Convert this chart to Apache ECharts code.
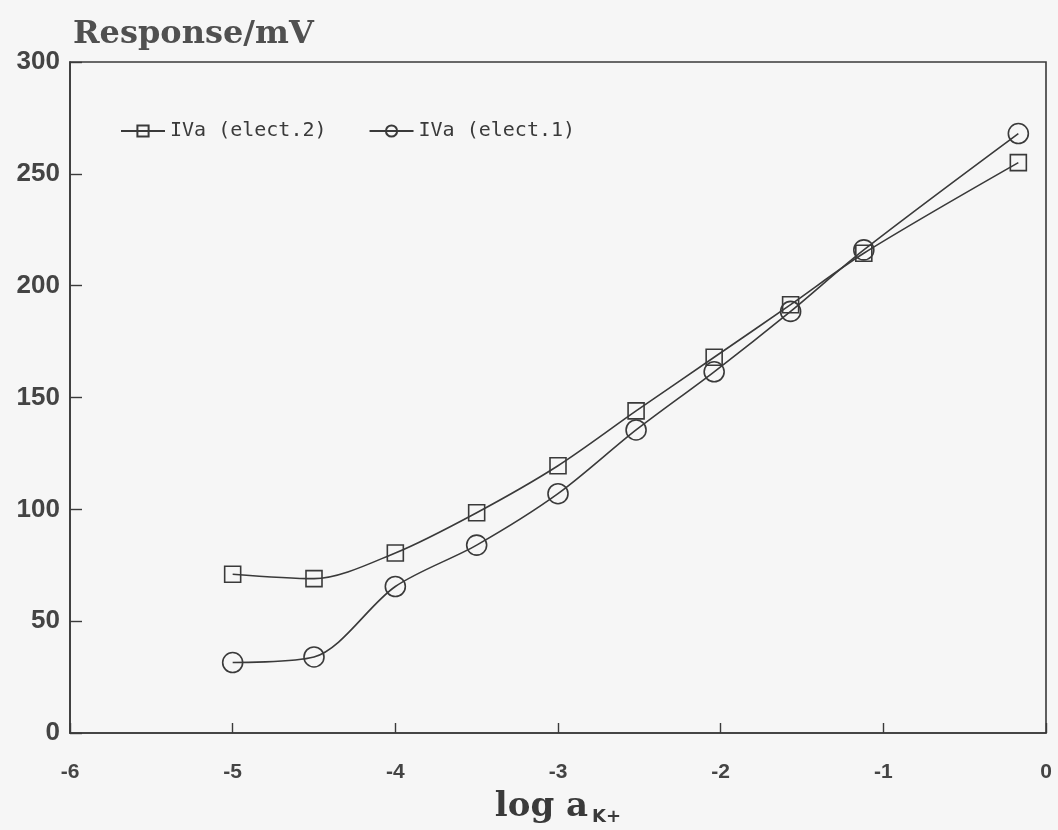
<!DOCTYPE html>
<html>
<head>
<meta charset="utf-8">
<script src="https://cdn.jsdelivr.net/npm/echarts@6/dist/echarts.min.js"></script>
<style>
  html, body { margin: 0; padding: 0; background: #f6f6f6; }
  #chart { width: 1058px; height: 830px; }
</style>
</head>
<body>
<div id="chart"></div>
<script>
// log activity of K+ for each calibration solution
const logActivity = [-5, -4.5, -4, -3.5, -3, -2.52, -2.04, -1.57, -1.12, -0.17];
// electrode potentials (mV)
const elect2 = [71, 69, 80.5, 98.5, 119.5, 144, 168, 191.5, 214.5, 255];
const elect1 = [31.5, 34, 65.5, 84, 107, 135.5, 161.5, 188.5, 216, 268];
const seriesNames = ['IVa (elect.2)', 'IVa (elect.1)'];
const xTicks = [-6, -5, -4, -3, -2, -1, 0];
const yTicks = [0, 50, 100, 150, 200, 250, 300];

const ink = '#3a3a3a';
const pairs = (xs, ys) => xs.map((x, i) => [x, ys[i]]);

const chart = echarts.init(document.getElementById('chart'));

const markerStyle = {
  color: 'rgba(0,0,0,0)',
  borderColor: ink,
  borderWidth: 1.6
};

chart.setOption({
  backgroundColor: '#f6f6f6',
  animation: false,
  grid: {
    left: 70, right: 12, top: 62, bottom: 97,
    outerBoundsMode: 'none', containLabel: false,
    show: true, borderColor: ink, borderWidth: 1.6, backgroundColor: 'transparent'
  },
  title: {
    text: 'Response/mV',
    left: 68, top: 14,
    textStyle: { fontFamily: 'DejaVu Serif', fontWeight: 'bold', fontSize: 32, color: '#505050' }
  },
  legend: {
    left: 115, top: 116,
    itemWidth: 44, itemHeight: 14, itemGap: 42,
    textStyle: { fontFamily: 'DejaVu Sans Mono', fontSize: 20, color: ink },
    data: seriesNames
  },
  xAxis: {
    type: 'value', min: -6, max: 0, interval: 1,
    name: '{m|log a}{s|K+}', nameLocation: 'middle', nameGap: 55,
    nameTextStyle: {
      rich: {
        m: { fontFamily: 'DejaVu Serif', fontWeight: 'bold', fontSize: 34, color: '#3a3a3a' },
        s: { fontFamily: 'DejaVu Sans', fontWeight: 'bold', fontSize: 18, color: '#3a3a3a', padding: [20, 0, 0, 4] }
      }
    },
    axisLine: { show: true, onZero: false, lineStyle: { color: ink, width: 1.6 } },
    axisTick: { show: true, inside: true, length: 10, lineStyle: { color: ink, width: 1.4 } },
    splitLine: { show: false },
    axisLabel: { margin: 29, fontFamily: 'Liberation Sans', fontWeight: 'bold', fontSize: 21, color: '#444',
      formatter: v => xTicks.includes(v) ? String(v) : '' }
  },
  yAxis: {
    type: 'value', min: 0, max: 300, interval: 50, position: 'left',
    axisLine: { show: true, onZero: false, lineStyle: { color: ink, width: 1.6 } },
    axisTick: { show: true, inside: true, length: 12, lineStyle: { color: ink, width: 1.4 } },
    splitLine: { show: false },
    axisLabel: { margin: 10, fontFamily: 'Liberation Sans', fontWeight: 'bold', fontSize: 26, color: '#444',
      formatter: v => yTicks.includes(v) ? String(v) : '' }
  },
  series: [
    {
      name: seriesNames[0], type: 'line', data: pairs(logActivity, elect2),
      smooth: 0.3, symbol: 'rect', symbolSize: 16,
      lineStyle: { color: ink, width: 1.6 }, itemStyle: markerStyle
    },
    {
      name: seriesNames[1], type: 'line', data: pairs(logActivity, elect1),
      smooth: 0.3, symbol: 'circle', symbolSize: 20,
      lineStyle: { color: ink, width: 1.6 }, itemStyle: markerStyle
    }
  ]
});
</script>
</body>
</html>
